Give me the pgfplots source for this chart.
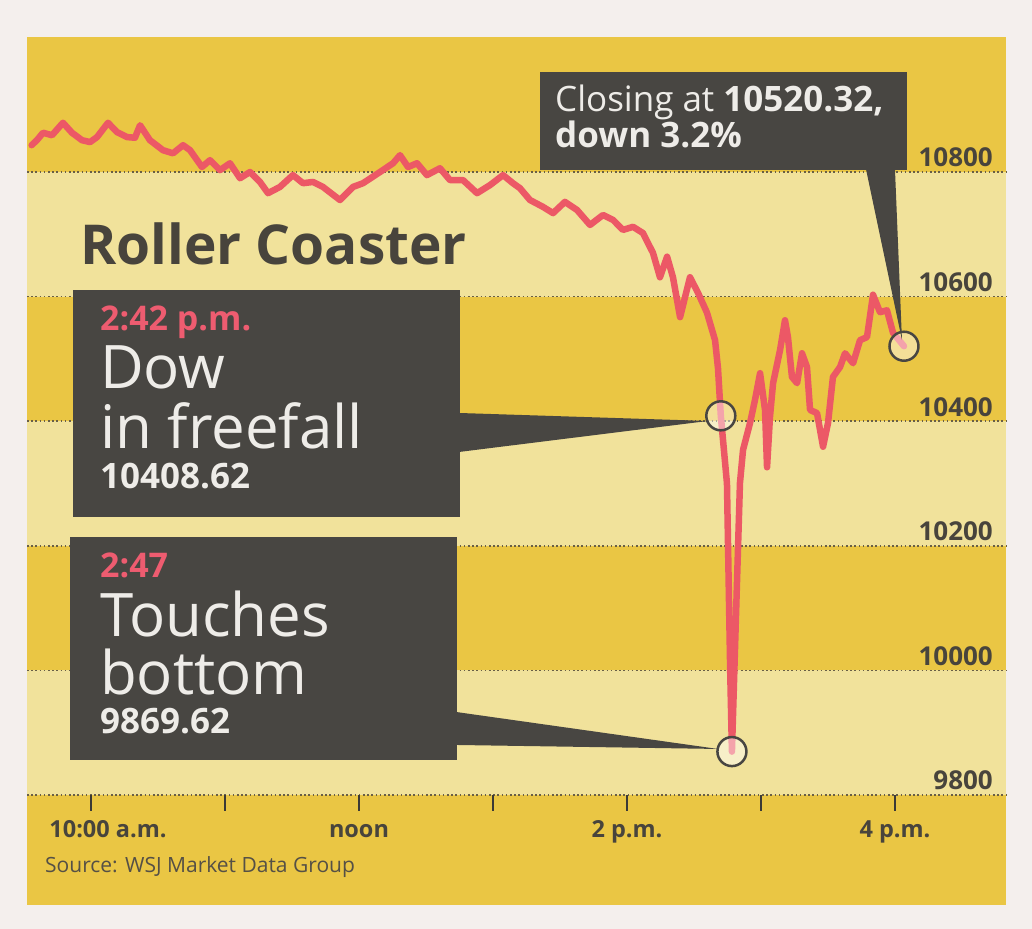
\documentclass[border=0pt]{standalone}
\usepackage{fontspec}
\setmainfont{Open Sans}
\usepackage{pgfplots}
\pgfplotsset{compat=1.18}
\definecolor{outerc}{RGB}{244,239,237}
\definecolor{darky}{RGB}{234,198,68}
\definecolor{lighty}{RGB}{241,226,155}
\definecolor{boxc}{RGB}{72,70,66}
\definecolor{linec}{RGB}{236,88,102}
\definecolor{txtc}{RGB}{72,68,60}
\definecolor{redtxt}{RGB}{238,92,112}
\definecolor{gridc}{RGB}{105,95,70}
\definecolor{whtxt}{RGB}{238,236,232}
\newcommand\fs[1]{\fontsize{#1}{#1}\selectfont}
\begin{document}
\begin{tikzpicture}
\begin{axis}[
  set layers, clip=false,
  scale only axis, width=979pt, height=758pt,
  xmin=9.5224, xmax=16.828, ymin=9800, ymax=11016.7,
  axis line style={draw=none},
  scaled y ticks=false, scaled x ticks=false,
  xtick={10,11,12,13,14,15,16},
  xticklabels={{\hspace*{34pt}10:00 a.m.},{},noon,{},2 p.m.,{},4 p.m.},
  xtick pos=lower,
  tick align=outside,
  major tick length=16pt,
  xtick style={draw={rgb,255:red,60;green,58;blue,54}, line width=2pt},
  ytick={9800,10000,10200,10400,10600,10800},
  yticklabels={9800,10000,10200,10400,10600,10800},
  ytick style={draw=none},
  yticklabel pos=right,
  yticklabel style={anchor=base east, inner sep=0pt, xshift=-29pt, yshift=5pt, font=\fs{26}\bfseries, text=txtc},
  xticklabel style={anchor=base, inner sep=0pt, yshift=-27pt, font=\fs{23.5}\bfseries, text=txtc},
  ymajorgrids,
  grid style={gridc, line width=1.6pt, dash pattern=on 1.6pt off 2.6pt},
]
% background: page, panel and alternating bands
\addplot[on layer=axis background, draw=none, fill=outerc] coordinates {(9.3209,9584.9) (17.0224,9584.9) (17.0224,11076.1) (9.3209,11076.1)} -- cycle;
\addplot[on layer=axis background, draw=none, fill=darky] coordinates {(9.5224,9623.4) (16.828,9623.4) (16.828,11016.7) (9.5224,11016.7)} -- cycle;
\addplot[on layer=axis background, draw=none, fill=lighty] coordinates {(9.5224,10600) (16.828,10600) (16.828,10800) (9.5224,10800)} -- cycle;
\addplot[on layer=axis background, draw=none, fill=lighty] coordinates {(9.5224,10200) (16.828,10200) (16.828,10400) (9.5224,10400)} -- cycle;
\addplot[on layer=axis background, draw=none, fill=lighty] coordinates {(9.5224,9800) (16.828,9800) (16.828,10000) (9.5224,10000)} -- cycle;
% Dow intraday
\addplot[linec, line width=6.5pt, line join=round, line cap=round] coordinates {
(9.557,10843) (9.600,10852) (9.642,10863) (9.709,10859) (9.791,10879) (9.858,10863) (9.933,10851)
(9.993,10848) (10.045,10856) (10.127,10879) (10.194,10864) (10.269,10856) (10.328,10855)
(10.366,10875) (10.440,10851) (10.537,10835) (10.612,10830) (10.687,10843) (10.739,10835)
(10.828,10808) (10.888,10819) (10.963,10803) (11.037,10814) (11.112,10790) (11.187,10800)
(11.261,10784) (11.321,10766) (11.410,10776) (11.507,10795) (11.582,10782) (11.657,10784)
(11.731,10776) (11.858,10755) (11.955,10776) (12.030,10782) (12.157,10800) (12.254,10814)
(12.306,10827) (12.366,10808) (12.433,10814) (12.507,10795) (12.604,10806) (12.679,10787)
(12.776,10787) (12.881,10766) (12.978,10779) (13.075,10795) (13.149,10782) (13.201,10774)
(13.276,10755) (13.373,10744) (13.448,10734) (13.537,10752) (13.627,10739) (13.724,10715)
(13.821,10731) (13.896,10723) (13.970,10707) (14.045,10712) (14.119,10702) (14.194,10670)
(14.246,10631) (14.299,10664) (14.343,10631) (14.396,10567) (14.470,10631) (14.530,10606)
(14.597,10574) (14.657,10530) (14.679,10485) (14.700,10408.62) (14.746,10300) (14.770,10000)
(14.783,9869.62) (14.843,10301) (14.866,10354) (14.918,10397) (14.955,10434) (14.993,10477)
(15.030,10418) (15.045,10326) (15.067,10407) (15.090,10461) (15.142,10514) (15.179,10562)
(15.201,10535) (15.231,10471) (15.269,10461) (15.306,10509) (15.343,10487) (15.366,10418)
(15.418,10413) (15.463,10359) (15.500,10397) (15.537,10471) (15.590,10487) (15.627,10509)
(15.687,10493) (15.739,10530) (15.791,10535) (15.836,10603) (15.888,10575) (15.940,10578)
(15.985,10542) (16.067,10520.32)
};
% highlighted points
\addplot[only marks, mark=*, mark size=14.5pt, mark options={draw=boxc, line width=2.5pt, fill=white, fill opacity=0.45, draw opacity=1}] coordinates {(14.700,10408.62) (14.783,9869.62) (16.067,10520.32)};
\end{axis}
\begin{scope}[x=1pt, y=-1pt, shift={(-27pt,795pt)}]
\node[anchor=base west, inner sep=0pt, text=txtc, font=\fs{55}\bfseries] at (80,265) {Roller Coaster};
% closing box
\fill[boxc] (540,72) rectangle (907,170);
\fill[boxc] (866,169) -- (895,169) -- (902,340) -- cycle;
\node[anchor=base west, inner sep=0pt, text=whtxt, font=\fs{35}] at (555,112) {Closing at \textbf{10520.32,}};
\node[anchor=base west, inner sep=0pt, text=whtxt, font=\fs{35}\bfseries] at (555,148) {down 3.2\%};
% freefall box
\fill[boxc] (73,290) rectangle (460,517);
\fill[boxc] (459,413) -- (459,452) -- (708,421) -- cycle;
\node[anchor=base west, inner sep=0pt, text=redtxt, font=\fs{34}\bfseries] at (100,331) {2:42 p.m.};
\node[anchor=base west, inner sep=0pt, text=whtxt, font=\fs{60}] at (100,389) {Dow};
\node[anchor=base west, inner sep=0pt, text=whtxt, font=\fs{60}] at (100,449) {in freefall};
\node[anchor=base west, inner sep=0pt, text=whtxt, font=\fs{35}\bfseries] at (100,489) {10408.62};
% bottom box
\fill[boxc] (70,537) rectangle (457,760);
\fill[boxc] (456,712) -- (456,745) -- (718,749) -- cycle;
\node[anchor=base west, inner sep=0pt, text=redtxt, font=\fs{34}\bfseries] at (100,578) {2:47};
\node[anchor=base west, inner sep=0pt, text=whtxt, font=\fs{60}] at (100,637) {Touches};
\node[anchor=base west, inner sep=0pt, text=whtxt, font=\fs{60}] at (100,695) {bottom};
\node[anchor=base west, inner sep=0pt, text=whtxt, font=\fs{35}\bfseries] at (100,734) {9869.62};
% source
\node[anchor=base west, inner sep=0pt, text={rgb,255:red,85;green,80;blue,70}, font=\fs{21}] at (45,873) {Source: WSJ Market Data Group};
\end{scope}
\end{tikzpicture}
\end{document}
